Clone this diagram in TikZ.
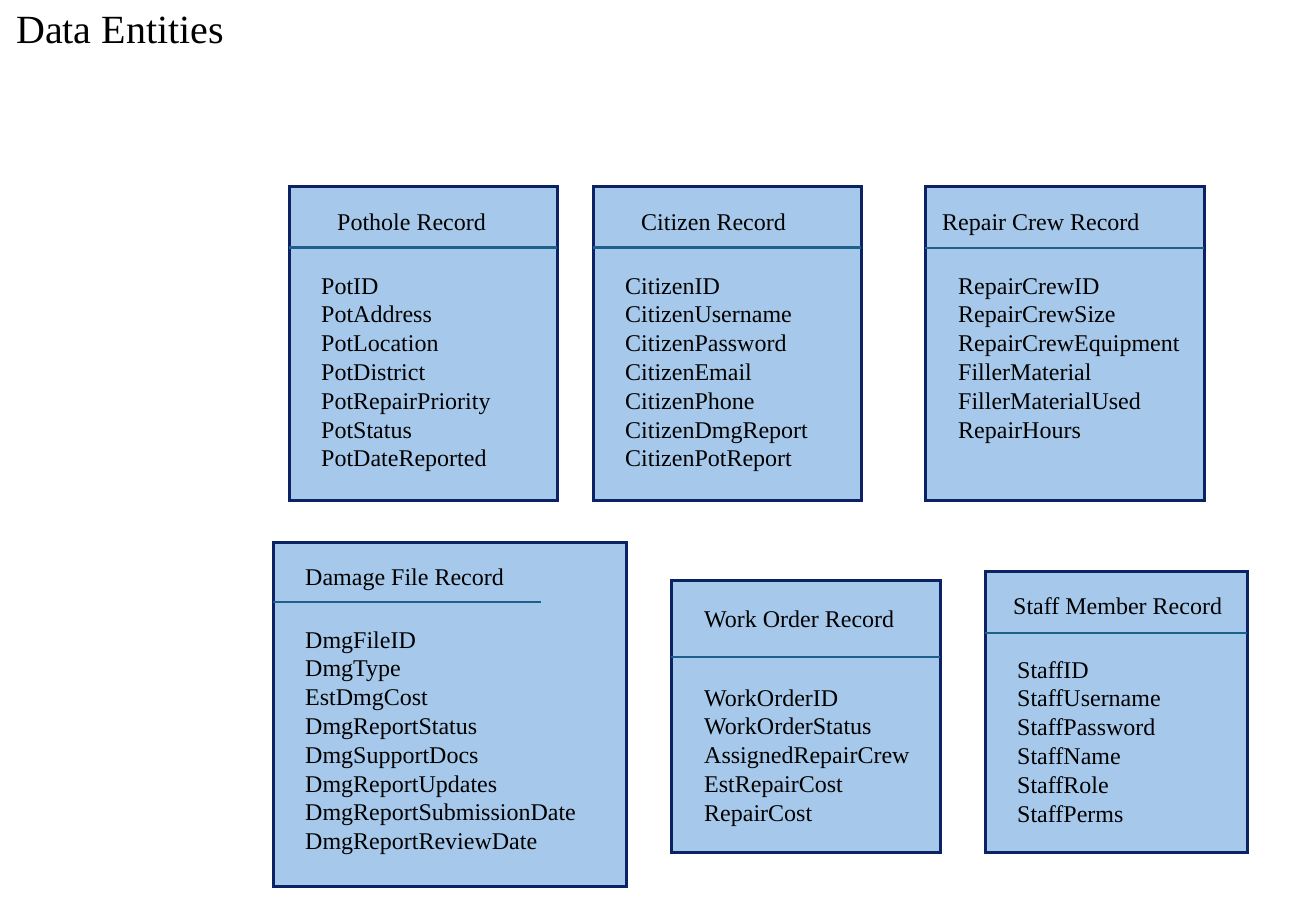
\documentclass[tikz,border=0pt]{standalone}
\usepackage{fontspec}
\setmainfont{Liberation Serif}
\definecolor{boxfill}{RGB}{166,201,235}
\definecolor{boxline}{RGB}{11,35,100}
\definecolor{divline}{RGB}{30,95,140}
\tikzset{
  recbox/.style={draw=boxline, fill=boxfill, line width=3pt, inner sep=0pt, rectangle},
  divider/.style={draw=divline, line width=2.6pt, shorten <=1.5pt, shorten >=1.5pt},
  ttl/.style={anchor=base west, inner sep=0pt, font=\fontsize{24}{28.8}\selectfont},
  itm/.style={anchor=base west, inner sep=0pt, font=\fontsize{24}{28.8}\selectfont},
  heading/.style={anchor=base west, inner sep=0pt, font=\fontsize{40}{46}\selectfont}
}
\begin{document}
\begin{tikzpicture}[x=1pt,y=-1pt]
\useasboundingbox (0,0) rectangle (1304,913);
\node[heading] (head) at (16,43) {Data Entities};

% Pothole
\node[recbox, minimum width=268pt, minimum height=314pt] (P) at (423,343) {};
\draw[divider] (P.west |- 0,247.5) -- (P.east |- 0,247.5);
\node[ttl] (Pt) at (337,230) {Pothole Record};
\foreach \t [count=\i] in {PotID,PotAddress,PotLocation,PotDistrict,PotRepairPriority,PotStatus,PotDateReported}
  \node[itm] (P-\i) at (321,{294+28.8*(\i-1)}) {\t};

% Citizen
\node[recbox, minimum width=268pt, minimum height=314pt] (C) at (727,343) {};
\draw[divider] (C.west |- 0,247.5) -- (C.east |- 0,247.5);
\node[ttl] (Ct) at (641,230) {Citizen Record};
\foreach \t [count=\i] in {CitizenID,CitizenUsername,CitizenPassword,CitizenEmail,CitizenPhone,CitizenDmgReport,CitizenPotReport}
  \node[itm] (C-\i) at (625,{294+28.8*(\i-1)}) {\t};

% Repair crew
\node[recbox, minimum width=279pt, minimum height=314pt] (R) at (1064.5,343) {};
\draw[divider] (R.west |- 0,248) -- (R.east |- 0,248);
\node[ttl] (Rt) at (942,230) {Repair Crew Record};
\foreach \t [count=\i] in {RepairCrewID,RepairCrewSize,RepairCrewEquipment,FillerMaterial,FillerMaterialUsed,RepairHours}
  \node[itm] (R-\i) at (958,{294+28.8*(\i-1)}) {\t};

% Damage file
\node[recbox, minimum width=353pt, minimum height=344pt] (D) at (449.5,714) {};
\draw[divider] (D.west |- 0,602) -- (542,602);
\node[ttl] (Dt) at (305,585) {Damage File Record};
\foreach \t [count=\i] in {DmgFileID,DmgType,EstDmgCost,DmgReportStatus,DmgSupportDocs,DmgReportUpdates,DmgReportSubmissionDate,DmgReportReviewDate}
  \node[itm] (D-\i) at (305,{648+28.8*(\i-1)}) {\t};

% Work order
\node[recbox, minimum width=269pt, minimum height=272pt] (W) at (805.5,716) {};
\draw[divider] (W.west |- 0,657) -- (W.east |- 0,657);
\node[ttl] (Wt) at (704,627) {Work Order Record};
\foreach \t [count=\i] in {WorkOrderID,WorkOrderStatus,AssignedRepairCrew,EstRepairCost,RepairCost}
  \node[itm] (W-\i) at (704,{706+28.8*(\i-1)}) {\t};

% Staff member
\node[recbox, minimum width=262pt, minimum height=281pt] (S) at (1116,711.5) {};
\draw[divider] (S.west |- 0,633) -- (S.east |- 0,633);
\node[ttl] (St) at (1013,614) {Staff Member Record};
\foreach \t [count=\i] in {StaffID,StaffUsername,StaffPassword,StaffName,StaffRole,StaffPerms}
  \node[itm] (S-\i) at (1017,{678+28.8*(\i-1)}) {\t};
\end{tikzpicture}
\end{document}
